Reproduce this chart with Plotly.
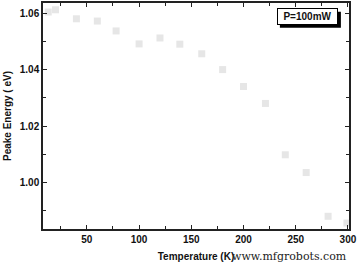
import plotly.graph_objects as go

temperature = [13, 20, 40, 60, 78, 100, 120, 139, 160, 180, 200, 221, 240, 260, 281, 299]
peak_energy = [1.0604, 1.0612, 1.0580, 1.0572, 1.0537, 1.0491, 1.0512, 1.0490, 1.0456, 1.0400,
               1.0340, 1.0280, 1.0098, 1.0035, 0.9880, 0.9856]
x_ticks = [50, 100, 150, 200, 250, 300]
y_ticks = [1.00, 1.02, 1.04, 1.06]
legend_text = "P=100mW"

fig = go.Figure()
fig.add_trace(go.Scatter(
    x=temperature, y=peak_energy, mode="markers",
    marker=dict(symbol="square", size=7, color="#e6e6e6", line=dict(width=0)),
    showlegend=False,
))

font_bold = dict(family="Liberation Sans, Arial", size=10, color="#111", weight="bold")

axis_common = dict(
    showgrid=False, zeroline=False, showline=True, linecolor="#222", linewidth=1.5,
    mirror="ticks", ticks="inside", ticklen=4, tickwidth=1, tickcolor="#222",
    tickfont=font_bold,
    minor=dict(ticks="inside", ticklen=3, tickwidth=1, tickcolor="#222"),
)

fig.update_xaxes(range=[8, 301], tickvals=x_ticks, ticktext=[str(v) for v in x_ticks],
                 minor_dtick=25, minor_tick0=0,
                 title=dict(text="Temperature (K)", standoff=9, font=font_bold),
                 **axis_common)
fig.update_yaxes(range=[0.9835, 1.0636], tickvals=y_ticks, ticktext=[f"{v:.2f}" for v in y_ticks],
                 minor_dtick=0.01, minor_tick0=0,
                 title=dict(text="Peake Energy ( eV)", standoff=6, font=font_bold),
                 **axis_common)

# legend box drop shadow (pixel-sized shape anchored in paper coords)
fig.add_shape(type="rect", xref="paper", yref="paper", xsizemode="pixel", ysizemode="pixel",
              xanchor=0.864, yanchor=0.939, x0=-27.5, x1=33.5, y0=-11, y1=5,
              fillcolor="black", line=dict(width=0), layer="above")
fig.add_annotation(xref="paper", yref="paper", x=0.864, y=0.939, xanchor="center", yanchor="middle",
                   text=legend_text, showarrow=False,
                   width=57, height=13, borderpad=1,
                   bgcolor="white", bordercolor="black", borderwidth=1,
                   font=font_bold)

fig.add_annotation(xref="paper", yref="paper", x=1.0, y=-0.12, xanchor="right", yanchor="middle",
                   text="www.mfgrobots.com", showarrow=False,
                   font=dict(family="DejaVu Serif", size=11, color="#222"))

fig.update_layout(
    width=358, height=265, margin=dict(l=43, r=9, t=1, b=36),
    plot_bgcolor="white", paper_bgcolor="white",
)
fig.write_html("out.html")
